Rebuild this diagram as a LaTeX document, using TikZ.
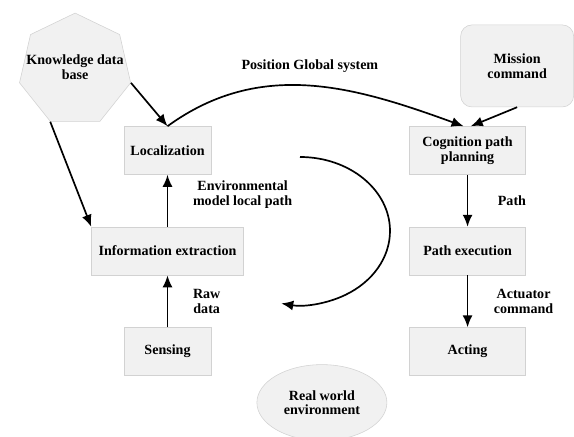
\documentclass[tikz,border=0pt]{standalone}
\usepackage{fontspec}
\setmainfont{Liberation Serif}
\usetikzlibrary{positioning,arrows.meta,shapes.geometric}
\definecolor{edgegray}{RGB}{210,210,210}
\definecolor{fillgray}{RGB}{241,241,241}
\tikzset{
  arrow/.style={-{Latex[length=3mm,width=2.5mm]}, line width=1.2pt, draw=black},
  note/.style={font=\fontsize{10}{10.5}\selectfont\bfseries, text=black, align=center},
  block/.style={
    draw=edgegray,
    fill=fillgray,
    rectangle,
    minimum width=2.9cm,
    minimum height=1.2cm,
    align=center,
    font=\fontsize{10}{10.5}\selectfont\bfseries
  },
  base/.style={
    regular polygon,
    regular polygon sides=7,
    draw=edgegray,
    fill=fillgray,
    minimum size=2.85cm,
    inner sep=0pt
  },
  world/.style={
    ellipse,
    draw=edgegray,
    fill=fillgray,
    minimum width=3.25cm,
    minimum height=1.9cm,
    align=center,
    font=\fontsize{10}{10.5}\selectfont\bfseries
  }
}

\begin{document}
\begin{tikzpicture}[node distance=1.3cm and 4.95cm]
\useasboundingbox (-4.1875,3.7625) rectangle (10.1625,-7.1625);

% Left column
\node[block, minimum width=2.175cm] (loc) {Localization};
\node[block, minimum width=3.8cm, below=of loc] (info) {Information extraction};
\node[block, minimum width=2.175cm, below=of info] (sens) {Sensing};

% Right column
\node[block, right=of loc] (cog) {Cognition path\\planning};
\node[block, below=of cog] (exec) {Path execution};
\node[block, below=of exec] (act) {Acting};

% Outer nodes
\node[block, rounded corners=8pt, minimum width=2.825cm, minimum height=2.05cm,
  above=0.475cm of cog, xshift=1.24cm] (mission) {Mission\\command};
\node[base, label={[note, yshift=0.08cm]center:Knowledge data\\base}] (kb)
  at ([xshift=-2.31cm, yshift=2.01cm]loc.center) {};
\node[world] (env) at ([xshift=3.86cm, yshift=-1.275cm]sens.center) {Real world\\environment};

% Connections
\draw[arrow] (kb.corner 6) -- (loc.north);
\draw[arrow] (kb.corner 4) -- (info.north west);
\draw[arrow] (info) -- node[midway, right=0.5cm, yshift=0.15cm, note] {Environmental\\model local path} (loc);
\draw[arrow] (sens) -- node[midway, right=0.5cm, note] {Raw\\data} (info);
\draw[arrow] (cog) -- node[midway, right=0.62cm, note] {Path} (exec);
\draw[arrow] (exec) -- node[midway, right=0.52cm, note] {Actuator\\command} (act);
\draw[arrow] (mission.south) -- ([xshift=0.08cm]cog.north);
\draw[arrow] (loc.north) to[out=36, in=160]
  node[midway, above=0.2cm, note] {Position Global system} ([xshift=-0.1cm]cog.north);

% Loop
\coordinate (arcstart) at ([xshift=3.3125cm, yshift=-0.1625cm]loc.center);
\draw[arrow] (arcstart) arc[start angle=90, end angle=-102, x radius=2.25cm, y radius=1.85cm];

\end{tikzpicture}
\end{document}
